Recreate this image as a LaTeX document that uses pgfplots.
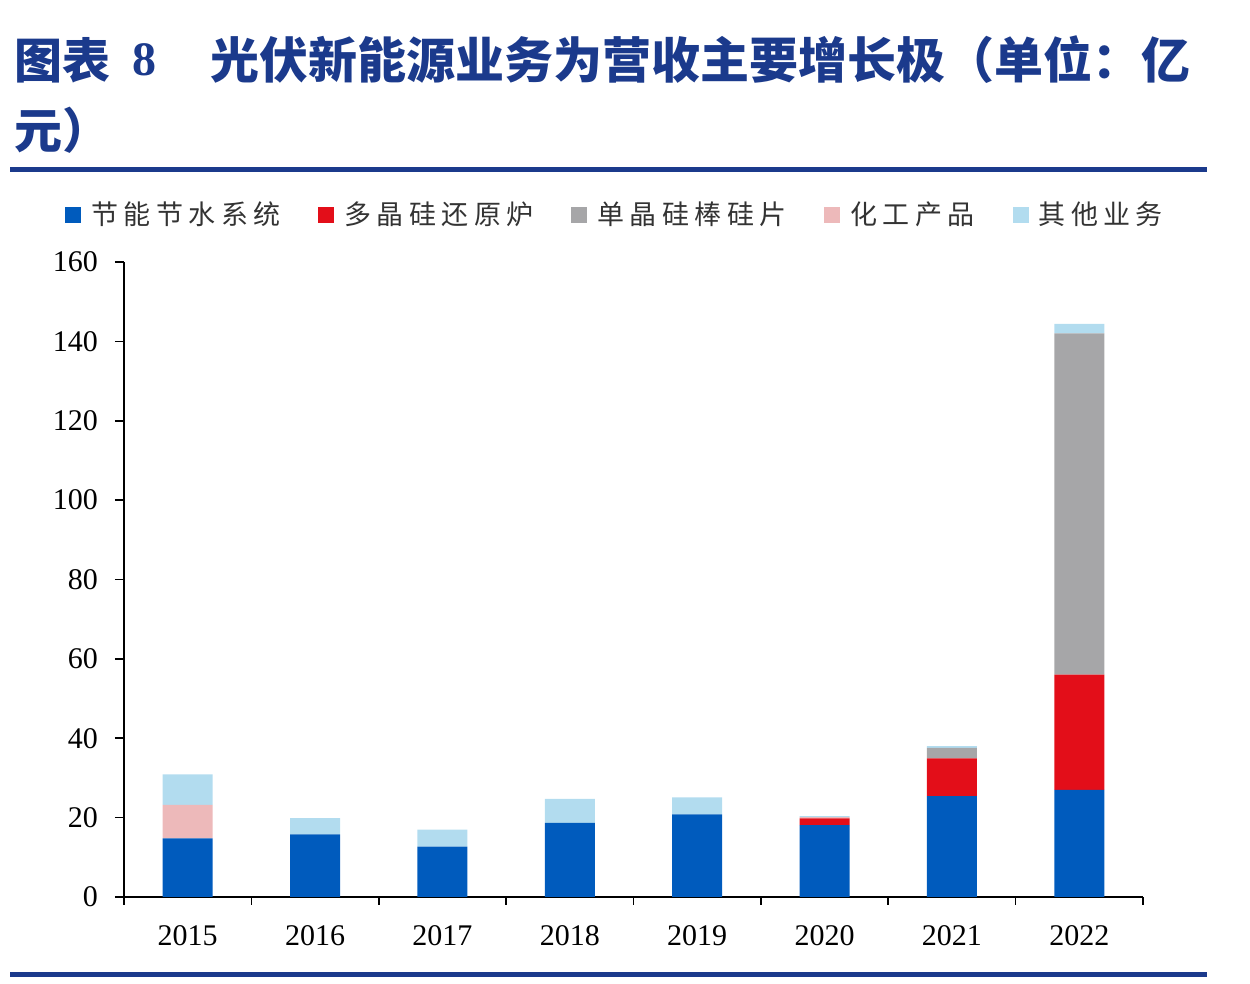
\documentclass[border=0pt]{standalone}
\usepackage{pgfplots}
\pgfplotsset{compat=1.18}
\usepackage{fontspec}
\setmainfont{Liberation Serif}
\newfontfamily\cjk{Noto Sans CJK SC}
\newfontfamily\cjkl{Noto Sans CJK SC}[LetterSpace=20]
\definecolor{cBlue}{HTML}{005BBD}
\definecolor{cRed}{HTML}{E30E19}
\definecolor{cGray}{HTML}{A6A6A8}
\definecolor{cPink}{HTML}{EDB9BA}
\definecolor{cLB}{HTML}{B2DCEF}
\definecolor{navy}{HTML}{1B3A8C}
\definecolor{legtxt}{HTML}{333333}
\begin{document}
\begin{tikzpicture}
\path[use as bounding box] (0,0) rectangle (625pt,492pt);
% title
\node[anchor=west,inner sep=0,text=navy] at (7pt,462pt) {\cjk\bfseries\fontsize{24}{24}\selectfont 图表};
\node[anchor=center,inner sep=0,text=navy] at (72.5pt,462pt) {\bfseries\fontsize{24}{24}\selectfont 8};
\node[anchor=west,inner sep=0,text=navy] at (105pt,462pt) {\cjk\bfseries\fontsize{24.5}{24.5}\selectfont 光伏新能源业务为营收主要增长极（单位：亿};
\node[anchor=west,inner sep=0,text=navy] at (7pt,427pt) {\cjk\bfseries\fontsize{24}{24}\selectfont 元）};
\fill[navy] (5pt,406pt) rectangle (603.5pt,408.5pt);
\fill[navy] (5pt,3.3pt) rectangle (603.5pt,5.8pt);
\begin{axis}[
  at={(62pt,43.5pt)}, anchor=south west,
  scale only axis, width=509.5pt, height=317.5pt,
  ybar stacked, bar width=25pt,
  xmin=-0.5, xmax=7.5, ymin=0, ymax=160,
  axis x line*=bottom, axis y line*=left,
  tick align=outside,
  xtick={0,...,7},
  xticklabels={2015,2016,2017,2018,2019,2020,2021,2022},
  minor xtick={-0.5,0.5,...,7.5},
  x tick style={draw=none},
  minor x tick style={draw=black, line width=0.8pt},
  minor tick length=4pt,
  ytick={0,20,...,160},
  y tick style={draw=black, line width=0.8pt},
  major tick length=4.5pt,
  axis line style={line width=0.8pt},
  tick label style={font=\fontsize{15}{15}\selectfont, text=black},
  /pgf/number format/assume math mode=true,
  xticklabel style={yshift=-6pt},
  yticklabel style={xshift=-5pt},
  legend style={at={(0.483,1.074)}, anchor=center, draw=none, fill=none,
     legend columns=5, font=\cjkl\fontsize{13.5}{13.5}\selectfont, text=legtxt,
     /tikz/every even column/.append style={column sep=17pt}},
  legend cell align=left,
  legend image code/.code={\fill[#1,draw=none] (0pt,-4pt) rectangle (8pt,4pt); \path (11pt,0pt);},
  every axis plot/.append style={draw=none},
]
\addplot[fill=cBlue] coordinates {(0,14.8) (1,15.8) (2,12.7) (3,18.7) (4,20.8) (5,18.1) (6,25.4) (7,27.0)};
\addplot[fill=cRed] coordinates {(0,0) (1,0) (2,0) (3,0) (4,0) (5,1.7) (6,9.5) (7,29.0)};
\addplot[fill=cGray] coordinates {(0,0) (1,0) (2,0) (3,0) (4,0) (5,0) (6,2.7) (7,86.0)};
\addplot[fill=cPink] coordinates {(0,8.4) (1,0) (2,0) (3,0) (4,0) (5,0.3) (6,0) (7,0)};
\addplot[fill=cLB] coordinates {(0,7.7) (1,4.1) (2,4.3) (3,6.0) (4,4.3) (5,0.3) (6,0.4) (7,2.4)};
\legend{节能节水系统,多晶硅还原炉,单晶硅棒硅片,化工产品,其他业务}
\end{axis}
\end{tikzpicture}
\end{document}
